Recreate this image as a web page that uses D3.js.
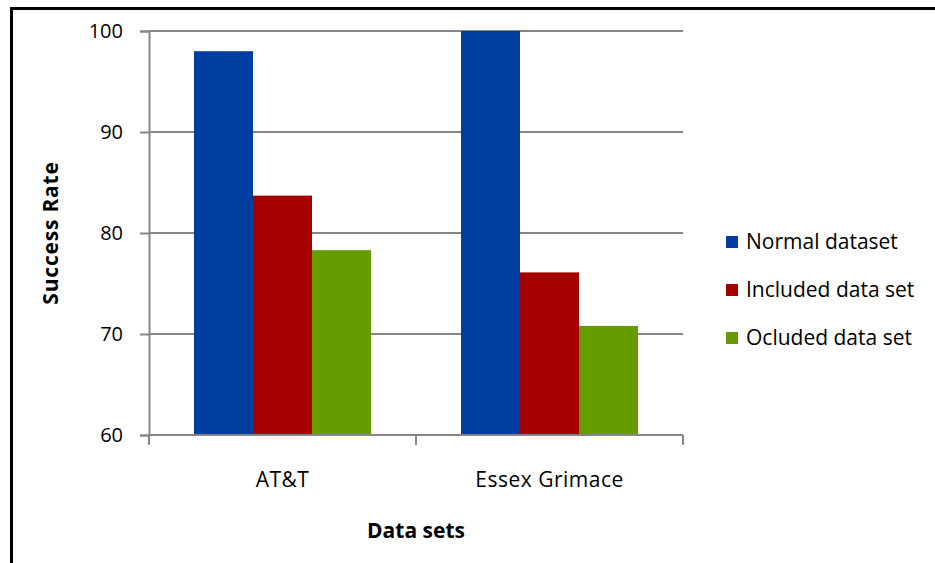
<!DOCTYPE html>
<html>
<head>
<meta charset="utf-8">
<script src="https://cdn.jsdelivr.net/npm/d3@7"></script>
<style>
  html, body { margin: 0; padding: 0; background: #fff; }
  svg { display: block; }
  text { font-family: "Open Sans", Lato, sans-serif; fill: #000; }
</style>
</head>
<body>
<svg id="chart" width="935" height="563"></svg>
<script>
// Success rate per data set, one array per method
const categories = ["AT&T", "Essex Grimace"];
const seriesNames = ["Normal dataset", "Included data set", "Ocluded data set"];
const normalValues = [98.0, 100.0];
const includedValues = [83.7, 76.1];
const ocludedValues = [78.3, 70.8];
const yTicks = [60, 70, 80, 90, 100];
const seriesColors = ["#003DA0", "#A50000", "#679C00"];

const seriesValues = [normalValues, includedValues, ocludedValues];

const svg = d3.select("#chart");

// outer frame (left and top edges)
svg.append("path")
  .attr("d", "M11.5,563 V8.5 H935")
  .attr("fill", "none")
  .attr("stroke", "#000")
  .attr("stroke-width", 3);

const plot = { left: 149, right: 683, top: 31, bottom: 435 };

const x0 = d3.scaleBand()
  .domain(categories)
  .range([plot.left, plot.right])
  .paddingInner(0)
  .paddingOuter(0);

const x1 = d3.scaleBand()
  .domain(seriesNames)
  .range([45, x0.bandwidth() - 45]);

const y = d3.scaleLinear()
  .domain([60, 100])
  .range([plot.bottom, plot.top]);

// horizontal gridlines
svg.append("g")
  .selectAll("line")
  .data(yTicks)
  .join("line")
  .attr("x1", plot.left)
  .attr("x2", plot.right)
  .attr("y1", d => y(d))
  .attr("y2", d => y(d))
  .attr("stroke", "#868686")
  .attr("stroke-width", 2);

// bars
const groups = svg.append("g")
  .selectAll("g")
  .data(categories)
  .join("g")
  .attr("transform", d => `translate(${x0(d)},0)`);

groups.selectAll("rect")
  .data((c, ci) => seriesNames.map((s, si) => ({ s, si, v: seriesValues[si][ci] })))
  .join("rect")
  .attr("x", d => x1(d.s))
  .attr("width", x1.bandwidth())
  .attr("y", d => y(d.v))
  .attr("height", d => y(60) - y(d.v))
  .attr("fill", d => seriesColors[d.si]);

// y axis
const yAxis = d3.axisLeft(y)
  .tickValues(yTicks)
  .tickSize(9)
  .tickPadding(17);
const yg = svg.append("g")
  .attr("transform", `translate(${plot.left},0)`)
  .call(yAxis);
yg.select(".domain").attr("stroke", "#868686").attr("stroke-width", 2);
yg.selectAll(".tick line").attr("stroke", "#868686").attr("stroke-width", 2);
yg.selectAll(".tick text")
  .style("font-family", "\"Open Sans\", sans-serif")
  .style("font-size", "20px")
  .attr("fill", "#000");

// x axis: ticks at category boundaries, labels at centers
const xg = svg.append("g")
  .attr("transform", `translate(0,${plot.bottom})`);
xg.append("line")
  .attr("x1", plot.left).attr("x2", plot.right)
  .attr("stroke", "#868686").attr("stroke-width", 2);
const boundaries = [plot.left].concat(categories.map(c => x0(c) + x0.bandwidth()));
xg.selectAll("line.tick")
  .data(boundaries)
  .join("line")
  .attr("class", "tick")
  .attr("x1", d => d).attr("x2", d => d)
  .attr("y1", 0).attr("y2", 10)
  .attr("stroke", "#868686").attr("stroke-width", 2);
xg.selectAll("text")
  .data(categories)
  .join("text")
  .attr("x", d => x0(d) + x0.bandwidth() / 2)
  .attr("y", 52)
  .attr("text-anchor", "middle")
  .style("font-size", "21px")
  .style("letter-spacing", "0.5px")
  .text(d => d);

// axis titles
svg.append("text")
  .attr("x", 416)
  .attr("y", 538)
  .attr("text-anchor", "middle")
  .style("font-size", "21px")
  .style("font-weight", "bold")
  .text("Data sets");

svg.append("text")
  .attr("transform", "translate(58,233) rotate(-90)")
  .attr("text-anchor", "middle")
  .style("font-size", "21px")
  .style("font-weight", "bold")
  .style("letter-spacing", "0.8px")
  .text("Success Rate");

// legend
const legend = svg.append("g")
  .selectAll("g")
  .data(seriesNames)
  .join("g")
  .attr("transform", (d, i) => `translate(726,${249 + i * 48})`);
legend.append("rect")
  .attr("x", 0).attr("y", -13)
  .attr("width", 12).attr("height", 12)
  .attr("fill", (d, i) => seriesColors[i]);
legend.append("text")
  .attr("x", 20)
  .attr("y", 0)
  .style("font-size", "21px")
  .text(d => d);
</script>
</body>
</html>
